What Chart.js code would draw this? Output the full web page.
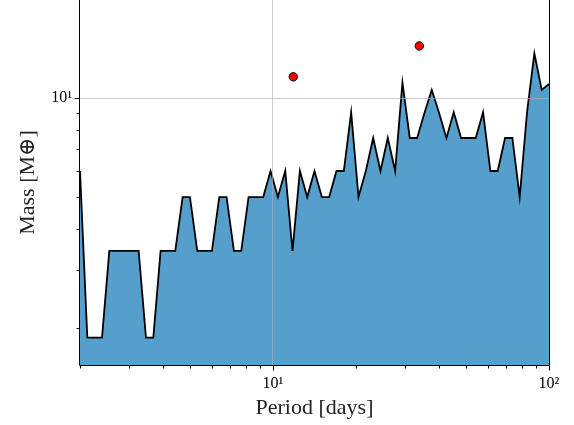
<!DOCTYPE html>
<html>
<head>
<meta charset="utf-8">
<script src="https://cdn.jsdelivr.net/npm/chart.js@4"></script>
<style>
  body { margin: 0; background: #fff; }
</style>
</head>
<body>
<canvas id="myChart" width="574" height="425"></canvas>
<script>
// orbital period grid (days), log spaced
const periods = [
  2.000, 2.126, 2.260, 2.403, 2.554, 2.715, 2.886, 3.068, 3.262, 3.467,
  3.686, 3.918, 4.165, 4.428, 4.707, 5.004, 5.319, 5.654, 6.011, 6.390,
  6.792, 7.221, 7.676, 8.160, 8.674, 9.221, 9.801, 10.42, 11.08, 11.77,
  12.52, 13.31, 14.14, 15.04, 15.98, 16.99, 18.06, 19.20, 20.41, 21.70,
  23.07, 24.52, 26.06, 27.71, 29.45, 31.31, 33.29, 35.38, 37.61, 39.98,
  42.50, 45.18, 48.03, 51.06, 54.28, 57.70, 61.33, 65.20, 69.31, 73.68,
  78.32, 83.26, 88.51, 94.08, 100.0,
];

// mass limit at each period (Earth masses)
const massLimit = [
  6.0, 1.87, 1.87, 1.87, 3.43, 3.43, 3.43, 3.43, 3.43, 1.87,
  1.87, 3.43, 3.43, 3.43, 5.0, 5.0, 3.43, 3.43, 3.43, 5.0,
  5.0, 3.43, 3.43, 5.0, 5.0, 5.0, 6.0, 5.0, 6.0, 3.43,
  6.0, 5.0, 6.0, 5.0, 5.0, 6.0, 6.0, 9.05, 5.0, 6.0,
  7.56, 6.0, 7.56, 6.0, 11.13, 7.56, 7.56, 9.0, 10.58, 9.0,
  7.56, 9.05, 7.56, 7.56, 7.56, 9.05, 6.0, 6.0, 7.56, 7.56,
  5.0, 9.05, 13.67, 10.58, 11.03,
];

// known planets
const planetPeriods = [11.85, 33.9];
const planetMasses = [11.6, 14.4];

const xTickValues = [2, 3, 4, 5, 6, 7, 8, 9, 10, 20, 30, 40, 50, 60, 70, 80, 90, 100];
const yTickValues = [2, 3, 4, 5, 6, 7, 8, 9, 10];
const tickLabels = { 10: "10\u00b9", 100: "10\u00b2" };

const isMajor = (v) => v === 10 || v === 100;
const serif = "'Liberation Serif', 'DejaVu Serif', serif";

// spines + tick marks (major longer than minor)
const axisFrame = {
  id: "axisFrame",
  afterDraw(chart) {
    const { ctx, chartArea: a, scales } = chart;
    ctx.save();
    ctx.strokeStyle = "#000";
    ctx.lineWidth = 1;
    ctx.beginPath();
    const L = Math.round(a.left) - 0.5;
    const R = Math.round(a.right) + 0.5;
    const B = Math.round(a.bottom) + 0.5;
    ctx.moveTo(L, a.top);
    ctx.lineTo(L, B);
    ctx.lineTo(R, B);
    ctx.lineTo(R, a.top);
    xTickValues.forEach((v) => {
      const px = Math.round(scales.x.getPixelForValue(v)) + 0.5;
      ctx.moveTo(px, B);
      ctx.lineTo(px, B + (isMajor(v) ? 5 : 3));
    });
    yTickValues.forEach((v) => {
      const py = Math.round(scales.y.getPixelForValue(v)) + 0.5;
      ctx.moveTo(L, py);
      ctx.lineTo(L - (isMajor(v) ? 5 : 3), py);
    });
    ctx.stroke();
    ctx.restore();
  },
};

const ctx = document.getElementById("myChart").getContext("2d");

const data = {
  datasets: [
    {
      type: "scatter",
      data: planetPeriods.map((p, i) => ({ x: p, y: planetMasses[i] })),
      backgroundColor: "#ff0000",
      borderColor: "#000",
      borderWidth: 1,
      pointRadius: 4.2,
    },
    {
      type: "line",
      data: periods.map((p, i) => ({ x: p, y: massLimit[i] })),
      borderColor: "#000",
      borderWidth: 1.8,
      backgroundColor: "#569fcd",
      fill: "start",
      pointRadius: 0,
      tension: 0,
    },
  ],
};

const gridColor = (c) =>
  c.tick && isMajor(c.tick.value) ? "rgba(176,176,176,0.65)" : "rgba(0,0,0,0)";

// no extra room for edge labels, plot area is set by the fixed axis sizes
const noEdgePadding = (s) => {
  s.paddingTop = 0;
  s.paddingBottom = 0;
  s.paddingLeft = 0;
  s.paddingRight = 0;
};

const config = {
  type: "line",
  data: data,
  plugins: [axisFrame],
  options: {
    responsive: false,
    animation: false,
    devicePixelRatio: 1,
    layout: { autoPadding: false, padding: { left: 0, right: 25, top: 0, bottom: 0 } },
    plugins: { legend: { display: false }, tooltip: { enabled: false } },
    scales: {
      x: {
        type: "logarithmic",
        min: 2,
        max: 100,
        afterBuildTicks: (s) => {
          s.ticks = xTickValues.map((v) => ({ value: v }));
        },
        afterFit: (s) => {
          s.height = 60;
          noEdgePadding(s);
        },
        border: { display: false },
        grid: { z: 1, color: gridColor, lineWidth: 1, drawTicks: false },
        ticks: {
          autoSkip: false,
          maxRotation: 0,
          padding: 9,
          color: "#000",
          font: { family: serif, size: 16 },
          callback: (v) => tickLabels[v] || "",
        },
        title: {
          display: true,
          text: "Period [days]",
          color: "#222",
          font: { family: serif, size: 22 },
          padding: { top: 0, bottom: 4 },
        },
      },
      y: {
        type: "logarithmic",
        min: 1.543,
        max: 19.86,
        afterBuildTicks: (s) => {
          s.ticks = yTickValues.map((v) => ({ value: v }));
        },
        afterFit: (s) => {
          s.width = 80;
          noEdgePadding(s);
        },
        border: { display: false },
        grid: { z: 1, color: gridColor, lineWidth: 1, drawTicks: false },
        ticks: {
          autoSkip: false,
          padding: 8,
          color: "#000",
          font: { family: serif, size: 16 },
          callback: (v) => tickLabels[v] || "",
        },
        title: {
          display: true,
          text: "Mass [M\u2295]",
          color: "#222",
          font: { family: serif, size: 22 },
          padding: { top: 15, bottom: 0 },
        },
      },
    },
  },
};

const myChart = new Chart(ctx, config);
</script>
</body>
</html>
